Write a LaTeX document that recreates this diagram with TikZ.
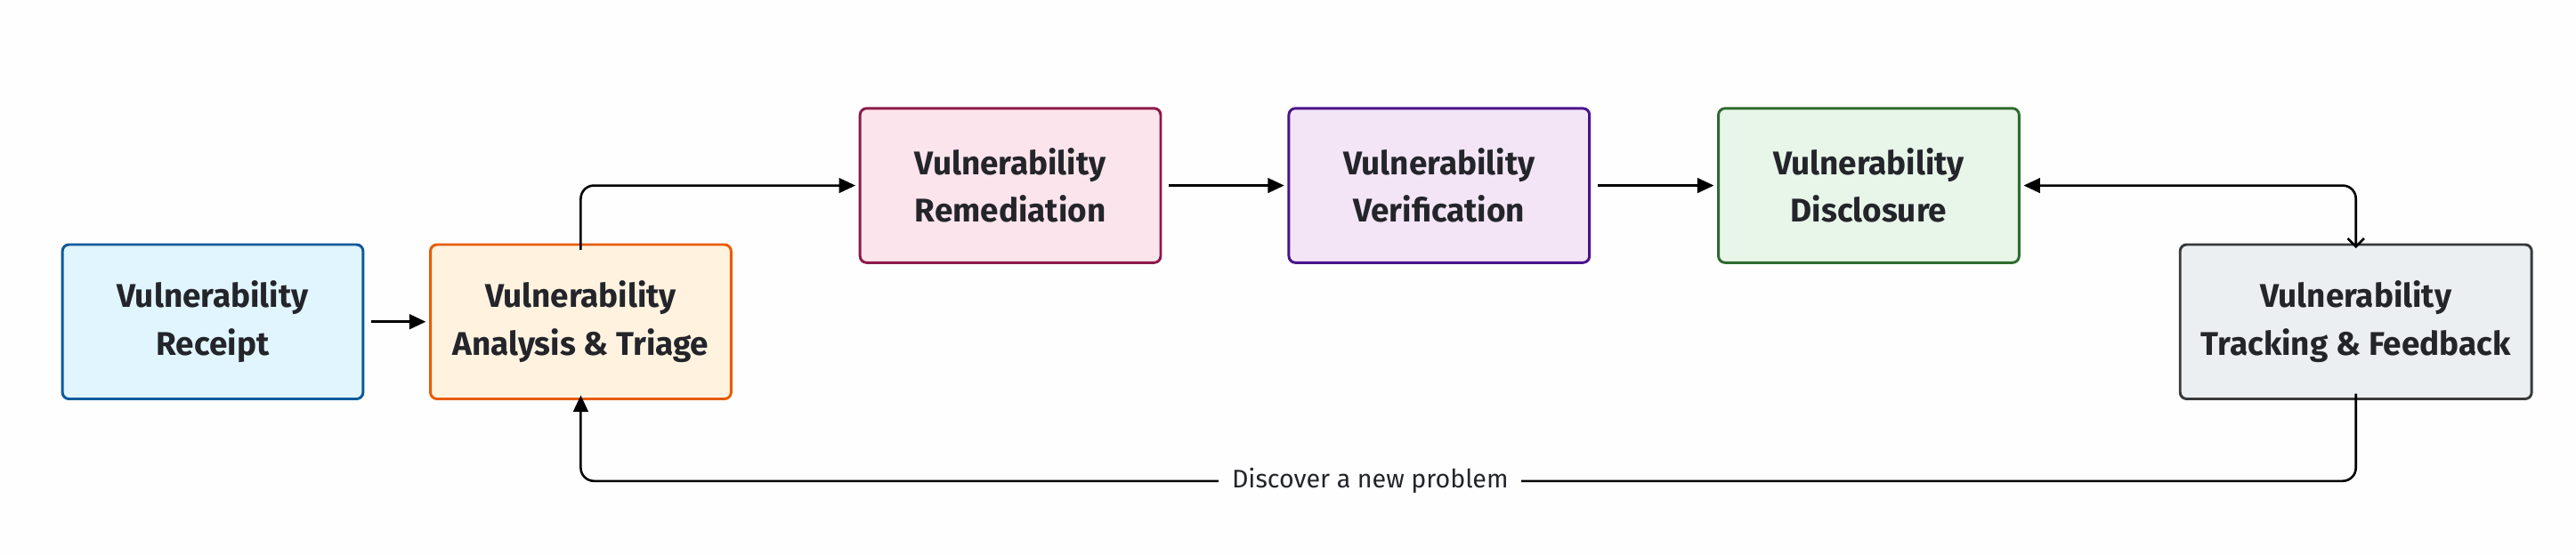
\documentclass[tikz,border=0pt]{standalone}
\usepackage{fontspec}
\setmainfont{Fira Sans}
\usetikzlibrary{arrows.meta}
\definecolor{bgc}{HTML}{FEFEFE}
\definecolor{b1}{HTML}{0D5A9A}\definecolor{f1}{HTML}{E1F5FE}
\definecolor{b2}{HTML}{E65C00}\definecolor{f2}{HTML}{FFF3E0}
\definecolor{b3}{HTML}{8B1A4A}\definecolor{f3}{HTML}{FCE4EC}
\definecolor{b4}{HTML}{4A148C}\definecolor{f4}{HTML}{F3E5F5}
\definecolor{b5}{HTML}{2E6B2E}\definecolor{f5}{HTML}{E8F5E9}
\definecolor{b6}{HTML}{37393B}\definecolor{f6}{HTML}{ECEFF1}
\definecolor{tx}{HTML}{23252A}
\begin{document}
\begin{tikzpicture}[x=1pt,y=-1pt,
 box/.style={draw=#1, line width=1.6pt, rounded corners=4pt, minimum width=183pt, minimum height=94pt, align=center, font=\fontsize{20}{29}\selectfont\bfseries, text=tx, inner sep=0pt},
 conn/.style={line width=1.4pt, -{Triangle[length=10pt,width=9pt]}}]
\fill[bgc] (0,0) rectangle (1568,338);
\useasboundingbox (0,0) rectangle (1568,338);
\node[box=b1, fill=f1] (a) at (129.5,196) {Vulnerability\\Receipt};
\node[box=b2, fill=f2] (b) at (353.5,196) {Vulnerability\\Analysis \& Triage};
\node[box=b3, fill=f3] (c) at (615,113) {Vulnerability\\Remediation};
\node[box=b4, fill=f4] (d) at (876,113) {Vulnerability\\Verification};
\node[box=b5, fill=f5] (e) at (1137.5,113) {Vulnerability\\Disclosure};
\node[box=b6, fill=f6, minimum width=214pt] (f) at (1434,196) {Vulnerability\\Tracking \& Feedback};
\coordinate (k) at (1434,113);
\coordinate (m) at (834,293);
\draw[conn] ([xshift=4pt]a.east) -- ([xshift=-2pt]b.west);
\draw[conn, rounded corners=8pt] ([yshift=-4pt]b.north) |- ([xshift=-2pt]c.west);
\draw[conn] ([xshift=4pt]c.east) -- ([xshift=-2pt]d.west);
\draw[conn] ([xshift=4pt]d.east) -- ([xshift=-2pt]e.west);
\draw[line width=1.4pt, rounded corners=8pt, {Triangle[length=10pt,width=9pt]}-{Straight Barb[length=5pt,width=10pt]}] ([xshift=2pt]e.east) -- (k) -- ([yshift=-3pt]f.north);
\draw[conn, rounded corners=8pt] ([yshift=4pt]f.south) |- (m) -| ([yshift=3pt]b.south);
\node[fill=bgc, inner xsep=8pt, font=\fontsize{15.5}{18}\selectfont, text=tx] (lbl) at (m) {Discover a new problem};
\end{tikzpicture}
\end{document}
